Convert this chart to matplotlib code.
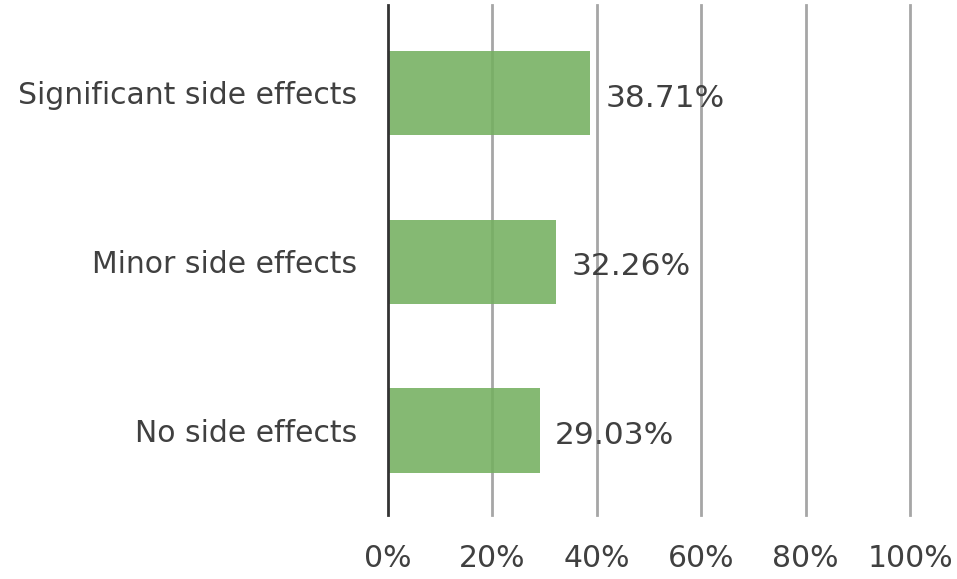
import matplotlib.pyplot as plt
import numpy as np

categories = ['No side effects', 'Minor side effects', 'Significant side effects']
values = [29.03, 32.26, 38.71]
xticks = [0, 20, 40, 60, 80, 100]

plt.rcParams['font.family'] = 'DejaVu Sans'

fig = plt.figure(figsize=(9.57, 5.79), dpi=100)
ax = fig.add_axes([0.4054, 0.1105, 0.5455, 0.8805])

y = np.arange(len(categories))
bars = ax.barh(y, values, height=0.5, color='#74b060', alpha=0.88, zorder=3)

# vertical gridlines
for t in xticks[1:]:
    ax.axvline(t, color='#a6a6a6', lw=2, zorder=2, clip_on=False)

for b, v in zip(bars, values):
    ax.text(v + 3, b.get_y() + b.get_height() / 2 - 0.03, f'{v:.2f}%',
            va='center', ha='left', fontsize=22.5, color='#404040', zorder=4)

ax.set_xlim(0, 100)
ax.set_ylim(-0.5, 2.52)
ax.set_yticks(y)
ax.set_yticklabels(categories)
ax.set_xticks(xticks)
ax.set_xticklabels([f'{t}%' for t in xticks])
ax.tick_params(axis='both', length=0, labelsize=21.5, labelcolor='#404040')
ax.tick_params(axis='y', pad=22)
ax.tick_params(axis='x', pad=21)

for s in ['top', 'right', 'bottom']:
    ax.spines[s].set_visible(False)
ax.spines['left'].set_color('#333333')
ax.spines['left'].set_linewidth(2)
ax.spines['left'].set_zorder(5)

fig.savefig('out.png', dpi=100)
